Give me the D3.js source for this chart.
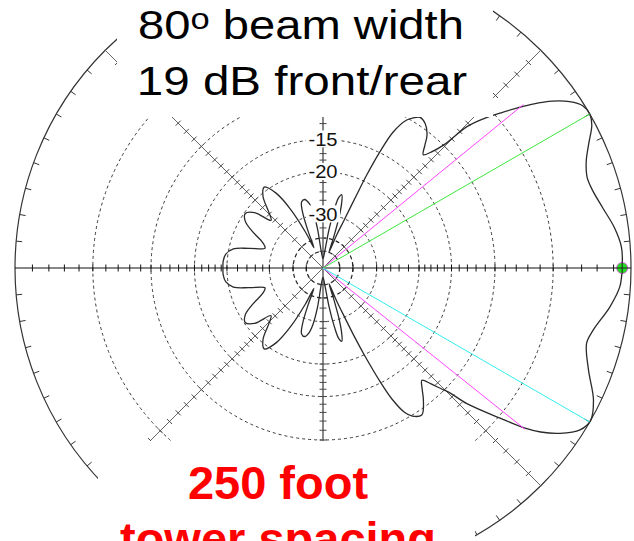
<!DOCTYPE html>
<html><head><meta charset="utf-8">
<script src="https://cdn.jsdelivr.net/npm/d3@7"></script>
<style>html,body{margin:0;padding:0;background:#fff;overflow:hidden}svg{display:block}</style>
</head><body>
<svg id="c" width="634" height="541"></svg>
<script>
// ---------- data ----------
const ringDb = [-5, -10, -15, -20, -30, -40, -50];
const labelDb = [-15, -20, -30];
const labelText = ["-15", "-20", "-30"];
const axisTickDb = [-1,-2,-3,-4,-5,-6,-7,-8,-9,-10,-11,-12,-13,-14,-15,-16,-17,-18,-19,-20,-22,-24,-26,-28,-30,-35,-40,-50];
const axisAz = [0, 45, 90, 135, 180, 225, 270, 315];
const azTickStep = 5;
const patternAz = [0,4,8,12,16,19,22,25,28,30,32,34,36,38,39.5,41,43,44.5,45.5,47,48.5,50.3,52,54.8,57.2,59,60.5,62.7,63.9,64.8,65.3,66.3,67.5,69,71,72.5,74,75.6,77.5,79,81,84,90,96,98,100,102,105,108,110,112,114,116,119,122,126,130,134,137.5,141,145,149,153,157,161,165,168,172,176,180,
  184,188,192,195,199,203,207,211,215,219,222.5,226,230,234,238,241,244,246,248,250,252,255,258,260,262,264,270,276,279,281,282.5,284.4,286,287.5,289,291,292.5,293.7,294.7,295.4,296.7,297.8,299.5,301.1,303.9,307.2,309.5,311.4,313,314.5,315.4,316.7,319.7,321.6,323,325.1,327.8,330.3,334,339,344.1,347.1,352.3,356.4];
const patternDb = [-0.5,-0.5,-0.8,-1.25,-1.6,-1.68,-1.4,-0.85,-0.2,0,-0.1,-0.6,-1.4,-2.5,-3.5,-4.5,-5.9,-7.3,-9.9,-11.4,-12.2,-11.3,-10.3,-9.5,-9.3,-9.7,-10.2,-12.0,-14.9,-18.8,-23,-31,-37,-50,-38,-30,-26,-24.1,-25,-28,-35,-50,-60,-50,-35,-29,-26.5,-25.2,-25.6,-28,-35,-45,-35,-26,-21.5,-19.3,-20.5,-23.5,-25.3,-21.5,-20.2,-21,-23.5,-26.5,-27.7,-24,-20.8,-19.6,-19.3,-19.3,
  -19.3,-19.6,-20.8,-24,-27.7,-26.5,-23.5,-21,-20.2,-21.5,-25.3,-23.5,-20.5,-19.3,-21.5,-26,-35,-45,-35,-28,-25.6,-25.2,-26.5,-29,-35,-50,-60,-50,-35,-28,-25,-24.1,-26,-30,-38,-50,-37,-30,-23.5,-20,-15.1,-12.5,-10.6,-9.9,-9.5,-10.6,-11.7,-12.4,-11.4,-10.2,-9.5,-7.6,-4.85,-3.05,-2.1,-1.1,-0.24,0,-0.4,-1.37,-2.0,-1.8,-1.06,-0.6];
const maxLobeAz = [30, -30];
const maxLobeColor = ["#3ee63e", "#33eeee"];
const halfPowerAz = [39.2, -38.6];
const halfPowerDb = -3;
const cursorAz = 0, cursorDb = -0.5;
const titleLines = ["80", "º", " beam width", "19 dB front/rear"];
const noteLines = ["250 foot", "tower spacing"];

// ---------- layout ----------
const W = 634, H = 541, cx = 323, cy = 268, R = 308;
const svg = d3.select("#c");
// ARRL log scale: every 2 dB the radius shrinks by 0.89  -> r = R * P^0.25305, P = linear power ratio
const rPow = d3.scalePow().exponent(-Math.log(0.89) / 2 * 10 / Math.LN10).domain([0, 1]).range([0, R]);
const r = db => rPow(Math.pow(10, db / 10));
const rad = a => a * Math.PI / 180;
const px = (az, rr) => cx + rr * Math.cos(rad(az));
const py = (az, rr) => cy - rr * Math.sin(rad(az));

const g = svg.append("g");

// rings
g.selectAll("circle.ring").data(ringDb).join("circle")
  .attr("cx", cx).attr("cy", cy).attr("r", d => r(d))
  .attr("fill", "none").attr("stroke", d => d <= -40 ? "#222" : "#3a3a3a")
  .attr("stroke-width", d => d <= -40 ? 1.2 : 1)
  .attr("stroke-dasharray", d => d <= -40 ? "4,3" : "3,3");

// outer circle
g.append("circle").attr("cx", cx).attr("cy", cy).attr("r", R)
  .attr("fill", "none").attr("stroke", "#333").attr("stroke-width", 1.2);

// outer ticks
const azTicks = d3.range(0, 360, azTickStep).filter(a => a % 45 !== 0);
g.selectAll("line.azt").data(azTicks).join("line")
  .attr("x1", a => px(a, R)).attr("y1", a => py(a, R))
  .attr("x2", a => px(a, R - 6)).attr("y2", a => py(a, R - 6))
  .attr("stroke", "#333").attr("stroke-width", 1);

// axes
g.selectAll("line.ax").data(axisAz).join("line")
  .attr("x1", a => px(a, R)).attr("y1", a => py(a, R))
  .attr("x2", cx).attr("y2", cy)
  .attr("stroke", a => a % 180 === 0 ? "#111" : (a % 90 === 0 ? "#888" : "#666"))
  .attr("stroke-width", a => a % 180 === 0 ? 1.2 : (a % 90 === 0 ? 2 : 1));

// axis ticks
const ticks = [];
axisAz.forEach(a => axisTickDb.forEach(db => ticks.push({a, db})));
g.selectAll("line.at").data(ticks).join("line")
  .each(function(d) {
    const rr = r(d.db), h = 3.5;
    const sx = Math.sin(rad(d.a)), sy = Math.cos(rad(d.a));
    d3.select(this)
      .attr("x1", px(d.a, rr) - h * sx).attr("y1", py(d.a, rr) - h * sy)
      .attr("x2", px(d.a, rr) + h * sx).attr("y2", py(d.a, rr) + h * sy);
  })
  .attr("stroke", d => d.a % 180 === 0 ? "#111" : "#444").attr("stroke-width", 1);

// pattern
const pts = patternAz.map((a, i) => ({a, db: patternDb[i]}));
const line = d3.lineRadial()
  .angle(d => rad(90 - d.a)).radius(d => r(d.db))
  .curve(d3.curveCatmullRomClosed.alpha(0.5));
g.append("path").attr("transform", `translate(${cx},${cy})`)
  .attr("d", line(pts)).attr("fill", "none").attr("stroke", "#2a2a2a").attr("stroke-width", 1.3);

// markers
g.selectAll("line.hp").data(halfPowerAz).join("line")
  .attr("x1", cx).attr("y1", cy)
  .attr("x2", a => px(a, r(halfPowerDb))).attr("y2", a => py(a, r(halfPowerDb)))
  .attr("stroke", "#ff44ff").attr("stroke-width", 1);
g.selectAll("line.mx").data(maxLobeAz).join("line")
  .attr("x1", cx).attr("y1", cy)
  .attr("x2", a => px(a, R)).attr("y2", a => py(a, R))
  .attr("stroke", (a, i) => maxLobeColor[i]).attr("stroke-width", 1);

// cursor dot
const dx = px(cursorAz, r(cursorDb)), dy = py(cursorAz, r(cursorDb));
g.append("circle").attr("cx", dx).attr("cy", dy).attr("r", 5.5)
  .attr("fill", "#22dd22").attr("stroke", "#ee44ee").attr("stroke-width", 0.8);
g.append("line").attr("x1", dx - 6).attr("x2", dx + 6).attr("y1", dy).attr("y2", dy).attr("stroke", "#222").attr("stroke-width", 1);
g.append("line").attr("x1", dx).attr("x2", dx).attr("y1", dy - 6).attr("y2", dy + 6).attr("stroke", "#222").attr("stroke-width", 1);

// ring labels
const lab = g.selectAll("g.lab").data(labelDb).join("g")
  .attr("transform", d => `translate(${cx},${cy - r(d)})`);
lab.append("rect").attr("x", -17).attr("y", -9).attr("width", 34).attr("height", 17).attr("fill", "#fff");
lab.append("text").attr("text-anchor", "middle").attr("y", 6.5)
  .attr("transform", "scale(1.12,1)")
  .attr("font-family", "Liberation Sans, Arial, sans-serif").attr("font-size", 18)
  .attr("fill", "#111").text((d, i) => labelText[i]);

// text boxes
svg.append("rect").attr("x", 117).attr("y", 0).attr("width", 376).attr("height", 117).attr("fill", "#fff");
svg.append("rect").attr("x", 98).attr("y", 441).attr("width", 377).attr("height", 100).attr("fill", "#fff");

// title
const t1 = svg.append("text").attr("transform", "translate(301,39) scale(1.15,1)")
  .attr("text-anchor", "middle").attr("font-family", "Liberation Sans, Arial, sans-serif")
  .attr("font-size", 41).attr("fill", "#000");
t1.append("tspan").text(titleLines[0]);
t1.append("tspan").attr("font-size", 30).attr("dy", -10).text("o");
t1.append("tspan").attr("dy", 10).text(titleLines[2]);
svg.append("text").attr("transform", "translate(302,95) scale(1.16,1)")
  .attr("text-anchor", "middle").attr("font-family", "Liberation Sans, Arial, sans-serif")
  .attr("font-size", 41).attr("fill", "#000").text(titleLines[3]);

// note (second line is cut by the bottom edge, as in the original slide)
svg.selectAll("text.note").data(noteLines).join("text")
  .attr("x", 278).attr("y", (d, i) => 499 + i * 56)
  .attr("text-anchor", "middle").attr("font-family", "Liberation Sans, Arial, sans-serif")
  .attr("font-weight", "bold").attr("font-size", 47).attr("fill", "#ff0000").text(d => d);
</script>
</body></html>
